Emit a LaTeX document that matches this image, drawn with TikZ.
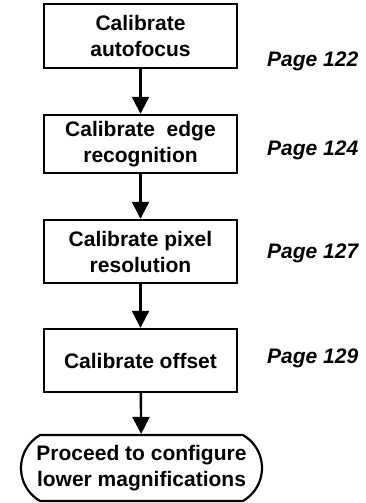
\documentclass[tikz,border=0pt]{standalone}
\usepackage{fontspec}
\setmainfont{Liberation Sans}
\usetikzlibrary{arrows.meta,shapes.misc}
\begin{document}
\begin{tikzpicture}[x=1pt,y=-1pt,
  txt/.style={font=\fontsize{21}{26}\selectfont\bfseries, align=center, text=black},
  stepbox/.style={txt, draw=black, line width=2.4pt, fill=white, minimum width=193pt, inner sep=0pt},
  endbox/.style={txt, draw=black, line width=2.2pt, fill=white, rounded rectangle, rounded rectangle arc length=120, minimum width=241pt, minimum height=66pt, inner sep=0pt},
  pagelbl/.style={font=\fontsize{21}{26}\selectfont\bfseries\itshape, anchor=west, inner sep=0pt},
  flow/.style={line width=2.4pt, -{Triangle[width=17pt,length=17pt]}}
]
\useasboundingbox (0,0) rectangle (366,503);
\node[stepbox, minimum height=64pt] (b1) at (140.5,36) {Calibrate\\autofocus};
\node[stepbox, minimum height=58pt] (b2) at (140.5,144) {Calibrate\ \ edge\\recognition};
\node[stepbox, minimum height=63pt] (b3) at (140.5,251.5) {Calibrate pixel\\resolution};
\node[stepbox, minimum height=63pt] (b4) at (140.5,360.5) {Calibrate offset};
\node[endbox] (e) at (141.5,468) {Proceed to configure\\lower magnifications};
\draw[flow] (b1) -- (b2);
\draw[flow] (b2) -- (b3);
\draw[flow] (b3) -- (b4);
\draw[flow] (b4) -- (e);
\node[pagelbl] (p1) at (267,61) {Page 122};
\node[pagelbl] (p2) at (267,150) {Page 124};
\node[pagelbl] (p3) at (267,253) {Page 127};
\node[pagelbl] (p4) at (267,358) {Page 129};
\end{tikzpicture}
\end{document}
